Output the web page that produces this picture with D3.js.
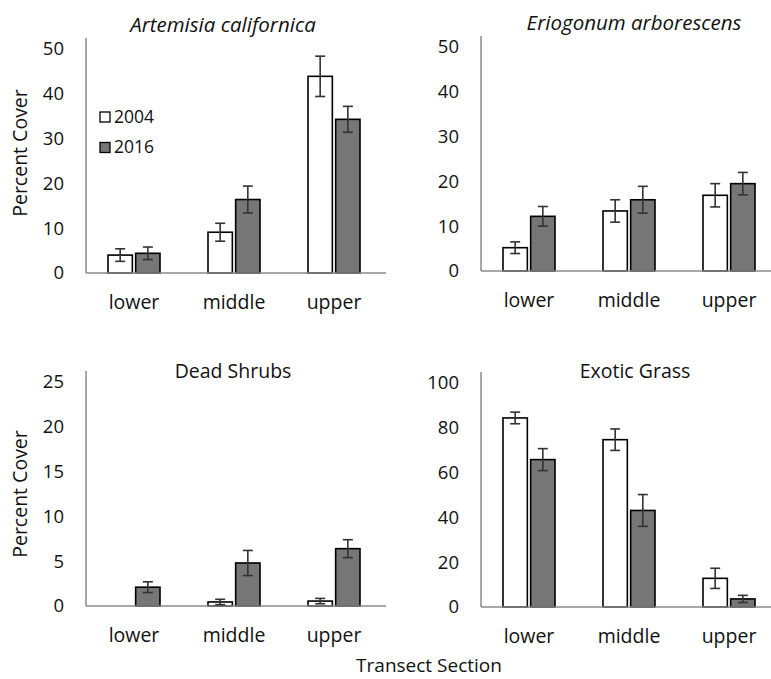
<!DOCTYPE html>
<html>
<head>
<meta charset="utf-8">
<script src="https://cdn.jsdelivr.net/npm/d3@7"></script>
<style>
  body { margin: 0; background: #fff; }
  text { font-family: "Open Sans", sans-serif; fill: #111; }
</style>
</head>
<body>
<div id="chart"></div>
<script>
var sections = ["lower", "middle", "upper"]
var years = ["2004", "2016"]

// values, per panel
var artemisia_2004 = [4.0, 9.1, 43.9]
var artemisia_2004_err = [1.4, 2.0, 4.5]
var artemisia_2016 = [4.4, 16.4, 34.3]
var artemisia_2016_err = [1.4, 3.0, 2.9]

var eriogonum_2004 = [5.2, 13.4, 16.9]
var eriogonum_2004_err = [1.3, 2.5, 2.6]
var eriogonum_2016 = [12.2, 15.9, 19.5]
var eriogonum_2016_err = [2.2, 3.0, 2.5]

var dead_2004 = [0, 0.45, 0.55]
var dead_2004_err = [0, 0.3, 0.3]
var dead_2016 = [2.1, 4.8, 6.4]
var dead_2016_err = [0.6, 1.4, 1.0]

var grass_2004 = [84.4, 74.7, 12.8]
var grass_2004_err = [2.6, 4.8, 4.5]
var grass_2016 = [65.8, 43.1, 3.6]
var grass_2016_err = [4.9, 7.1, 1.6]

var ticks_50 = [0, 10, 20, 30, 40, 50]
var ticks_25 = [0, 5, 10, 15, 20, 25]
var ticks_100 = [0, 20, 40, 60, 80, 100]

const W = 771, H = 679
const PLOT_H = 224, PLOT_W = 300
const FONT = "'Open Sans', sans-serif"

const panels = [
  { title: "Artemisia californica", italic: true, ticks: ticks_50,
    v04: artemisia_2004, e04: artemisia_2004_err, v16: artemisia_2016, e16: artemisia_2016_err,
    x: 86, y: 273, titleX: 223, titleY: 32, legend: true, ylabY: 153 },
  { title: "Eriogonum arborescens", italic: true, ticks: ticks_50,
    v04: eriogonum_2004, e04: eriogonum_2004_err, v16: eriogonum_2016, e16: eriogonum_2016_err,
    x: 481, y: 271, titleX: 634, titleY: 30 },
  { title: "Dead Shrubs", italic: false, ticks: ticks_25,
    v04: dead_2004, e04: dead_2004_err, v16: dead_2016, e16: dead_2016_err,
    x: 86, y: 606, titleX: 233, titleY: 378, ylabY: 494 },
  { title: "Exotic Grass", italic: false, ticks: ticks_100,
    v04: grass_2004, e04: grass_2004_err, v16: grass_2016, e16: grass_2016_err,
    x: 481, y: 607, titleX: 635, titleY: 378 }
]

const svg = d3.select("#chart").append("svg")
  .attr("width", W).attr("height", H)

const fill = { "2004": "#ffffff", "2016": "#767676" }

panels.forEach(function(p) {
  var g = svg.append("g").attr("transform", "translate(" + p.x + "," + (p.y - PLOT_H) + ")")

  var yScale = d3.scaleLinear()
    .domain([0, d3.max(p.ticks)])
    .range([PLOT_H, 0])
  var xScale = d3.scaleBand()
    .domain(sections)
    .range([-2, PLOT_W - 2])
  var xInner = d3.scaleBand()
    .domain(years)
    .range([xScale.bandwidth() / 2 - 26, xScale.bandwidth() / 2 + 26])
    .paddingInner(0.12)

  // y axis: labels only, grey line drawn separately
  var yAxis = g.append("g")
    .call(d3.axisLeft(yScale).tickValues(p.ticks).tickSize(0).tickPadding(22))
  yAxis.select(".domain").remove()
  yAxis.selectAll("text")
    .style("font-size", "18.5px")
    .style("font-family", FONT)
    .attr("fill", "#111")

  g.append("line")
    .attr("x1", 0).attr("x2", 0)
    .attr("y1", -11).attr("y2", PLOT_H)
    .attr("stroke", "#8a8a8a").attr("stroke-width", 1.5)

  var xAxis = g.append("g")
    .attr("transform", "translate(0," + (PLOT_H + 36) + ")")
    .call(d3.axisBottom(xScale).tickSize(0).tickPadding(0))
  xAxis.select(".domain").remove()
  xAxis.selectAll("text")
    .attr("dy", "0")
    .style("font-size", "19.5px")
    .style("font-family", FONT)
    .attr("fill", "#111")

  // rows for bars
  var rows = []
  sections.forEach(function(s, i) {
    rows.push({ sec: s, year: "2004", v: p.v04[i], e: p.e04[i] })
    rows.push({ sec: s, year: "2016", v: p.v16[i], e: p.e16[i] })
  })

  g.append("g").selectAll("rect")
    .data(rows.filter(d => d.v > 0))
    .enter()
    .append("rect")
    .attr("x", d => xScale(d.sec) + xInner(d.year))
    .attr("y", d => yScale(d.v))
    .attr("width", xInner.bandwidth())
    .attr("height", d => PLOT_H - yScale(d.v))
    .attr("fill", d => fill[d.year])
    .attr("stroke", "#000")
    .attr("stroke-width", 1.6)

  g.append("line")
    .attr("x1", 0).attr("x2", PLOT_W)
    .attr("y1", PLOT_H).attr("y2", PLOT_H)
    .attr("stroke", "#8a8a8a").attr("stroke-width", 1.5)

  // error bars
  var eg = g.append("g").selectAll("g")
    .data(rows.filter(d => d.e > 0))
    .enter()
    .append("g")
    .attr("transform", d => "translate(" + (xScale(d.sec) + xInner(d.year) + xInner.bandwidth() / 2) + ",0)")
  eg.append("line")
    .attr("y1", d => yScale(d.v + d.e)).attr("y2", d => yScale(d.v - d.e))
    .attr("stroke", "#333").attr("stroke-width", 1.6)
  eg.append("line")
    .attr("x1", -5).attr("x2", 5)
    .attr("y1", d => yScale(d.v + d.e)).attr("y2", d => yScale(d.v + d.e))
    .attr("stroke", "#333").attr("stroke-width", 1.6)
  eg.append("line")
    .attr("x1", -5).attr("x2", 5)
    .attr("y1", d => yScale(d.v - d.e)).attr("y2", d => yScale(d.v - d.e))
    .attr("stroke", "#333").attr("stroke-width", 1.6)

  svg.append("text")
    .attr("x", p.titleX).attr("y", p.titleY)
    .attr("text-anchor", "middle")
    .style("font-size", p.italic ? "20.5px" : "19.5px")
    .style("font-style", p.italic ? "italic" : "normal")
    .text(p.title)

  if (p.ylabY) {
    svg.append("text")
      .attr("transform", "translate(20," + p.ylabY + ") rotate(-90)")
      .attr("dy", "0.35em")
      .attr("text-anchor", "middle")
      .style("font-size", "19.5px")
      .text("Percent Cover")
  }

  if (p.legend) {
    var lg = svg.append("g").attr("transform", "translate(100,112)")
    years.forEach(function(yr, i) {
      lg.append("rect")
        .attr("x", 0).attr("y", i * 30.5)
        .attr("width", 10).attr("height", 10)
        .attr("fill", fill[yr]).attr("stroke", "#000").attr("stroke-width", 1.3)
      lg.append("text")
        .attr("x", 14).attr("y", i * 30.5 + 10.5)
        .style("font-size", "17.5px")
        .text(yr)
    })
  }
})

svg.append("text")
  .attr("x", 429).attr("y", 672)
  .attr("text-anchor", "middle")
  .style("font-size", "19px")
  .text("Transect Section")
</script>
</body>
</html>
